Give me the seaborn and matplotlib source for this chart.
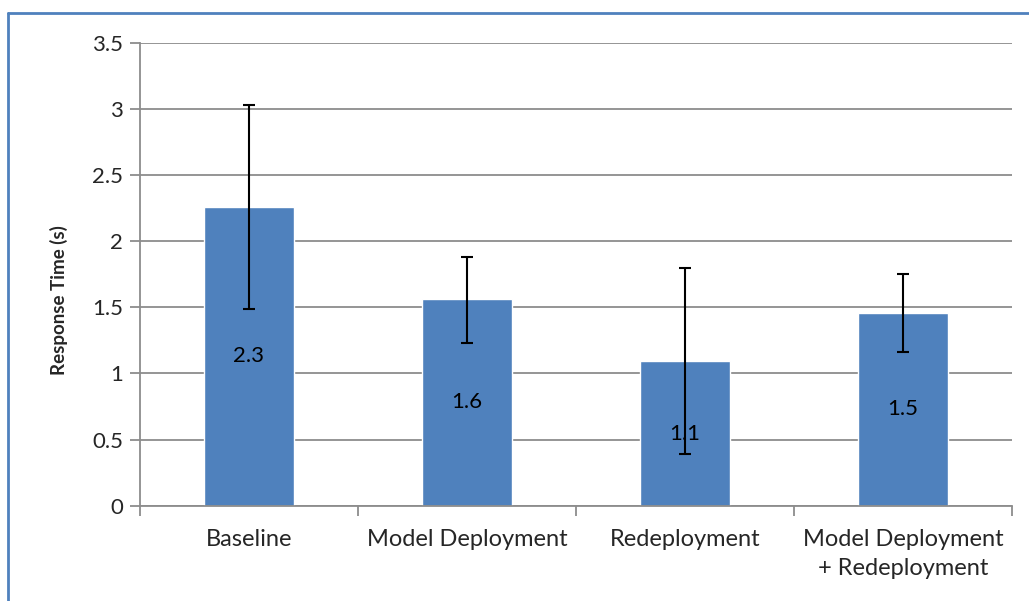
import numpy as np
import pandas as pd
import matplotlib
matplotlib.use('Agg')
import matplotlib.pyplot as plt
from matplotlib.lines import Line2D
import seaborn as sns

# values
categories = ['Baseline', 'Model Deployment', 'Redeployment', 'Model Deployment\n+ Redeployment']
mean_time = [2.26, 1.56, 1.09, 1.46]
err_low = [1.49, 1.23, 0.39, 1.16]
err_high = [3.03, 1.88, 1.80, 1.75]

sns.set_style('white')
plt.rcParams['font.family'] = ['Lato', 'DejaVu Sans']

df = pd.DataFrame({'category': categories, 'time': mean_time})

fig = plt.figure(figsize=(10.29, 6.01), dpi=100)
ax = fig.add_axes([0.136, 0.1586, 0.8475, 0.7704])

sns.barplot(ax=ax, data=df, x='category', y='time', color='#4F81BD',
            saturation=1, width=0.41, errorbar=None, zorder=2)

pos = np.arange(len(categories))
yerr = [np.array(mean_time) - np.array(err_low), np.array(err_high) - np.array(mean_time)]
ax.errorbar(pos, mean_time, yerr=yerr, fmt='none', ecolor='black',
            elinewidth=1.5, capsize=4.3, capthick=1.5, zorder=3)

for c in ax.containers:
    if hasattr(c, 'patches'):
        ax.bar_label(c, fmt='%.1f', label_type='center', fontsize=16, color='black')

# axes styling
ax.set_ylim(0, 3.5)
ax.set_xlim(-0.5, 3.5)
ax.set_yticks(np.arange(0, 3.51, 0.5))
ax.set_yticklabels(['0', '0.5', '1', '1.5', '2', '2.5', '3', '3.5'])
ax.yaxis.grid(True, color='#8c8c8c', linewidth=1.3, zorder=0)
ax.set_axisbelow(True)
for s in ['top', 'right']:
    ax.spines[s].set_visible(False)
for s in ['left', 'bottom']:
    ax.spines[s].set_color('#8c8c8c')
    ax.spines[s].set_linewidth(1.3)

ax.tick_params(axis='y', length=7, width=1.3, color='#8c8c8c', labelsize=16, pad=5, left=True)
ax.set_xticks(np.arange(-0.5, 3.6, 1.0), minor=True)
ax.tick_params(axis='x', which='minor', length=7, width=1.3, color='#8c8c8c', bottom=True)
ax.tick_params(axis='x', which='major', length=0, labelsize=17, pad=17)
for lab in ax.get_xticklabels():
    lab.set_linespacing(1.45)

ax.set_xlabel('')
ax.set_ylabel('Response Time (s)', fontsize=13.5, fontweight='bold')
ax.yaxis.set_label_coords(-0.082, 0.445)

# chart border (top and left visible in crop)
fig.add_artist(Line2D([0.0075, 1.0], [0.978, 0.978], transform=fig.transFigure,
                      color='#4F81BD', linewidth=2))
fig.add_artist(Line2D([0.0075, 0.0075], [0.0, 0.978], transform=fig.transFigure,
                      color='#4F81BD', linewidth=2))

fig.savefig('out.png', dpi=100)
